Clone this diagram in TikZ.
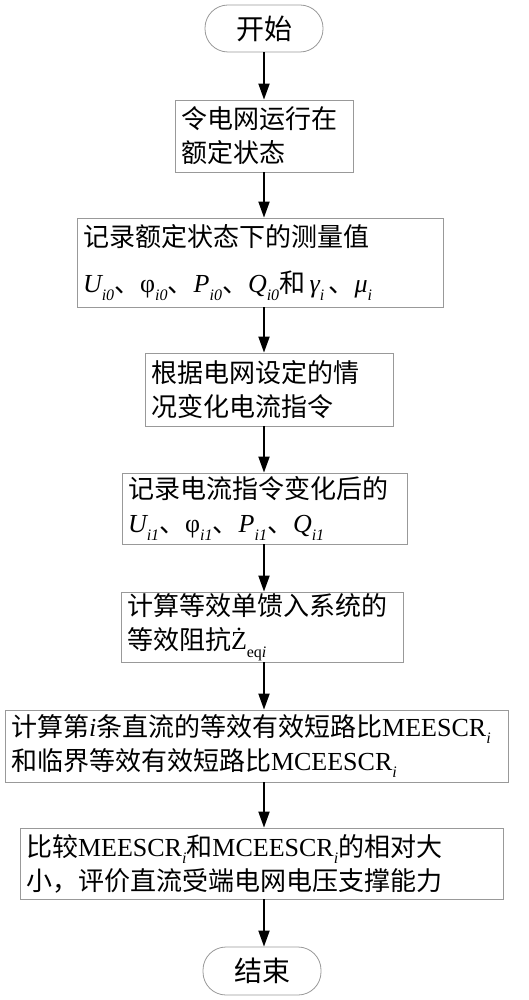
\documentclass[tikz,border=0pt]{standalone}
\usepackage{fontspec}
\setmainfont{Noto Sans CJK SC}
\newfontfamily\tnr{Liberation Serif}
\usetikzlibrary{arrows.meta}
\newcommand\sbs[1]{\raisebox{-0.3em}{\fontsize{16}{16}\selectfont\tnr #1}}
\newcommand\tn[1]{{\tnr #1}}
\newcommand\ti[1]{{\tnr\itshape #1}}
\tikzset{
  x=1pt, y=-1pt,
  stepbox/.style={draw=gray!80, line width=0.8pt, rectangle, inner xsep=6pt, inner ysep=0pt,
    align=left, font=\fontsize{26}{34}\selectfont},
  term/.style={draw=gray!80, line width=0.8pt, rounded corners=23pt, inner sep=0pt,
    font=\fontsize{28}{34}\selectfont},
  arr/.style={line width=1.8pt, -{Triangle[length=16pt,width=11pt]}}
}
\begin{document}
\begin{tikzpicture}
\useasboundingbox (0,0) rectangle (528,1000);
\coordinate (spine) at (264,0);
\node[term, minimum width=118pt, minimum height=47pt] (start) at (264,28.5) {开始};
\node[stepbox, text width=166pt, minimum height=72pt] (b1) at (264,136) {令电网运行在\\额定状态};
\node[stepbox, text width=354pt, minimum height=89pt] (b2) at (260,262.5)
  {记录额定状态下的测量值\\[12pt]\ti{U}\sbs{\itshape i0}、\tn{φ}\sbs{\itshape i0}、\ti{P}\sbs{\itshape i0}、\ti{Q}\sbs{\itshape i0}和\,\ti{γ}\sbs{\itshape i}\,、\ti{μ}\sbs{\itshape i}};
\node[stepbox, text width=236pt, minimum height=73pt] (b3) at (269,389.5) {根据电网设定的情\\况变化电流指令};
\node[stepbox, text width=273pt, minimum height=71pt] (b4) at (264.5,508.5)
  {记录电流指令变化后的\\\ti{U}\sbs{\itshape i1}、\tn{φ}\sbs{\itshape i1}、\ti{P}\sbs{\itshape i1}、\ti{Q}\sbs{\itshape i1}};
\node[stepbox, text width=270pt, minimum height=70pt] (b5) at (262,627)
  {计算等效单馈入系统的\\等效阻抗\tn{Ż}\sbs{eq\itshape i}};
\node[stepbox, text width=491pt, minimum height=72pt] (b6) at (256.5,746)
  {计算第\ti{i}条直流的等效有效短路比\tn{MEESCR}\sbs{\itshape i}\\和临界等效有效短路比\tn{MCEESCR}\sbs{\itshape i}};
\node[stepbox, text width=471pt, minimum height=71pt] (b7) at (261.5,863.5)
  {比较\tn{MEESCR}\sbs{\itshape i}和\tn{MCEESCR}\sbs{\itshape i}的相对大\\小，评价直流受端电网电压支撑能力};
\node[term, minimum width=118pt, minimum height=48pt] (end) at (262,971) {结束};
\foreach \a/\b in {start/b1,b1/b2,b2/b3,b3/b4,b4/b5,b5/b6,b6/b7,b7/end}
  \draw[arr] (\a.south -| spine) -- (\b.north -| spine);
\end{tikzpicture}
\end{document}
